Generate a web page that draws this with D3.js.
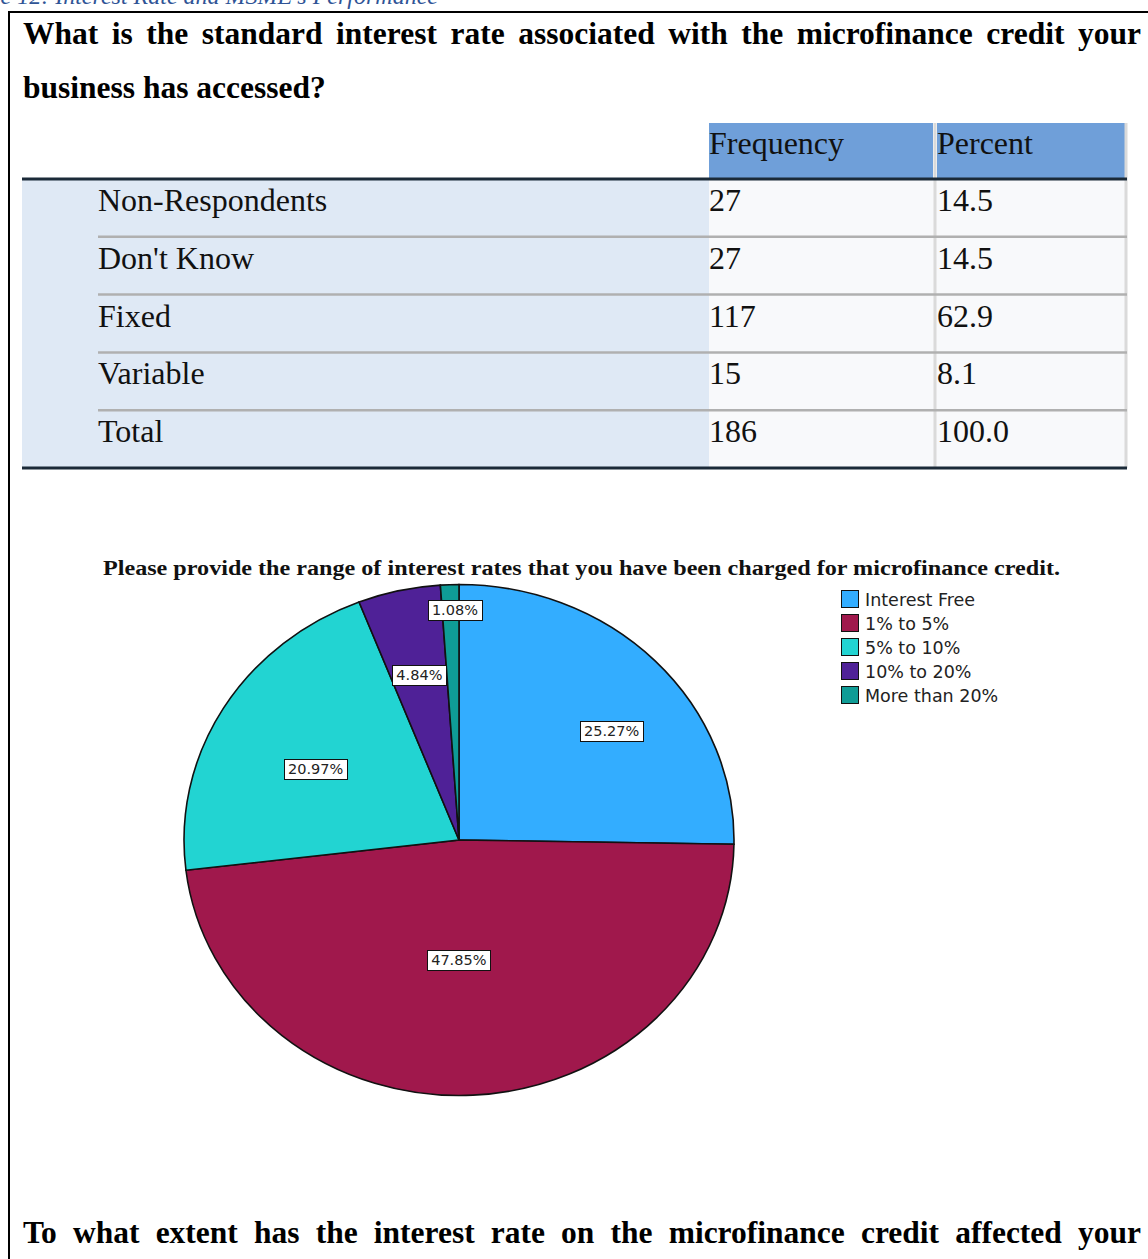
<!DOCTYPE html>
<html>
<head>
<meta charset="utf-8">
<script src="https://cdn.jsdelivr.net/npm/d3@7"></script>
<style>
  body { margin: 0; background: #fff; }
  svg { display: block; }
</style>
</head>
<body>
<div id="chart"></div>
<script>
// table data
var rowLabels = ["Non-Respondents", "Don't Know", "Fixed", "Variable", "Total"];
var frequencies = [27, 27, 117, 15, 186];
var percents = ["14.5", "14.5", "62.9", "8.1", "100.0"];
var headers = ["Frequency", "Percent"];

// pie data
var pieCategories = ["Interest Free", "1% to 5%", "5% to 10%", "10% to 20%", "More than 20%"];
var pieValues = [25.27, 47.85, 20.97, 4.84, 1.08];
var pieColors = ["#33adff", "#a0184c", "#22d4d2", "#4f2197", "#0f9c96"];
// where each slice label sits: fraction of radius, angle shift in degrees
var labelPlace = [[0.70, 7], [0.47, 3], [0.59, -3], [0.66, 0], [0.90, 1]];

var caption = "Table 12: Interest Rate and MSME's Performance";
var question1 = ["What is the standard interest rate associated with the microfinance credit your", "business has accessed?"];
var pieTitle = "Please provide the range of interest rates that you have been charged for microfinance credit.";
var question2 = "To what extent has the interest rate on the microfinance credit affected your";

(function (d3) {

    /***** Configuration *****/
    var W = 1148, H = 1259;
    var serif = "'Liberation Serif', 'Times New Roman', serif";
    var sans = "'DejaVu Sans', Verdana, sans-serif";

    var svg = d3.select("#chart")
                .append("svg")
                .attr("width", W)
                .attr("height", H);

    // writes a line of words spread from x0 to x1
    function justifiedLine(g, words, x0, x1, y, style) {
        var t = g.append("g");
        var nodes = words.map(function (w) {
            return t.append("text").attr("y", y).text(w)
                    .style("font-family", style.family)
                    .style("font-size", style.size + "px")
                    .style("font-weight", style.weight)
                    .style("fill", "#000");
        });
        var widths = nodes.map(function (n) { return n.node().getComputedTextLength(); });
        var gap = (x1 - x0 - d3.sum(widths)) / (words.length - 1);
        var x = x0;
        nodes.forEach(function (n, i) { n.attr("x", x); x += widths[i] + gap; });
    }

    /***** caption and frame *****/
    svg.append("text")
       .attr("x", 438).attr("y", 4)
       .attr("text-anchor", "end")
       .style("font-family", serif)
       .style("font-style", "italic")
       .style("font-size", "24px")
       .style("fill", "#2f5496")
       .text(caption);

    svg.append("path")
       .attr("d", "M9," + H + "V12H" + W)
       .attr("fill", "none")
       .attr("stroke", "#000")
       .attr("stroke-width", 2);

    var qStyle = { family: serif, size: 31.5, weight: "bold" };
    justifiedLine(svg, question1[0].split(" "), 23, 1141, 44, qStyle);
    svg.append("text")
       .attr("x", 23).attr("y", 98)
       .style("font-family", serif).style("font-size", "31.5px").style("font-weight", "bold")
       .text(question1[1]);

    /***** table *****/
    var tableTop = 179, tableBottom = 468;
    var y = d3.scaleBand().domain(d3.range(rowLabels.length)).range([tableTop, tableBottom]);
    var col = { label: [22, 709], freq: [709, 935], pct: [935, 1126] };

    var tg = svg.append("g");
    tg.append("rect").attr("x", col.label[0]).attr("y", tableTop)
      .attr("width", col.label[1] - col.label[0]).attr("height", tableBottom - tableTop)
      .attr("fill", "#dfe9f5");
    tg.append("rect").attr("x", col.freq[0]).attr("y", tableTop)
      .attr("width", col.pct[1] - col.freq[0]).attr("height", tableBottom - tableTop)
      .attr("fill", "#f8f9fb");

    // header
    [col.freq, col.pct].forEach(function (c, i) {
        tg.append("rect").attr("x", c[0] + (i ? 2 : 0)).attr("y", 123)
          .attr("width", c[1] - c[0] - 2).attr("height", 55)
          .attr("fill", "#6f9fd9");
        tg.append("text").attr("x", c[0] + (i ? 2 : 0)).attr("y", 154)
          .style("font-family", serif).style("font-size", "32px")
          .style("fill", "#111")
          .text(headers[i]);
    });

    // vertical dividers
    tg.selectAll(".vline")
      .data([935, 1126])
      .enter()
      .append("line")
      .attr("x1", function (d) { return d; }).attr("x2", function (d) { return d; })
      .attr("y1", 123).attr("y2", tableBottom)
      .attr("stroke", "#dadada").attr("stroke-width", 3);

    // row separators
    tg.selectAll(".sep")
      .data(d3.range(1, rowLabels.length))
      .enter()
      .append("line")
      .attr("x1", 98).attr("x2", 1127)
      .attr("y1", function (d) { return y(d); }).attr("y2", function (d) { return y(d); })
      .attr("stroke", "#b0b0b0").attr("stroke-width", 2.5);

    // thick top and bottom rules
    tg.selectAll(".rule")
      .data([tableTop, tableBottom])
      .enter()
      .append("line")
      .attr("x1", 22).attr("x2", 1127)
      .attr("y1", function (d) { return d; }).attr("y2", function (d) { return d; })
      .attr("stroke", "#1b2a38").attr("stroke-width", 3);

    var rows = tg.selectAll(".row")
                 .data(rowLabels)
                 .enter()
                 .append("g")
                 .attr("transform", function (d, i) { return "translate(0," + (y(i) + 32) + ")"; })
                 .style("font-family", serif).style("font-size", "32px").style("fill", "#111");
    rows.append("text").attr("x", 98).text(function (d) { return d; });
    rows.append("text").attr("x", col.freq[0]).text(function (d, i) { return frequencies[i]; });
    rows.append("text").attr("x", col.pct[0] + 2).text(function (d, i) { return percents[i]; });

    /***** pie chart *****/
    svg.append("text")
       .attr("x", 103).attr("y", 575)
       .attr("textLength", 957).attr("lengthAdjust", "spacingAndGlyphs")
       .style("font-family", serif).style("font-weight", "bold").style("font-size", "20px")
       .style("fill", "#111")
       .text(pieTitle);

    var cx = 459, cy = 840, rx = 275, ry = 255.5;
    var pie = d3.pie().sort(null).value(function (d) { return d; });
    var arcs = pie(pieValues);
    var arc = d3.arc().innerRadius(0).outerRadius(rx);

    var pg = svg.append("g")
                .attr("transform", "translate(" + cx + "," + cy + ") scale(1," + (ry / rx) + ")");
    pg.selectAll("path")
      .data(arcs)
      .enter()
      .append("path")
      .attr("d", arc)
      .attr("fill", function (d, i) { return pieColors[i]; })
      .attr("stroke", "#111")
      .attr("stroke-width", 1.6)
      .attr("vector-effect", "non-scaling-stroke");

    // slice labels
    var lg = svg.append("g")
                .style("font-family", sans).style("font-size", "14.5px");
    arcs.forEach(function (d, i) {
        var a = (d.startAngle + d.endAngle) / 2 + labelPlace[i][1] * Math.PI / 180;
        var r = labelPlace[i][0];
        var px = cx + Math.sin(a) * rx * r;
        var py = cy - Math.cos(a) * ry * r;
        var txt = pieValues[i].toFixed(2) + "%";
        var box = lg.append("rect");
        var t = lg.append("text")
                  .attr("x", px).attr("y", py + 5)
                  .attr("text-anchor", "middle")
                  .style("fill", "#222")
                  .text(txt);
        var w = t.node().getComputedTextLength() + 8;
        box.attr("x", Math.round(px - w / 2) + 0.5).attr("y", Math.round(py - 10) + 0.5)
           .attr("width", Math.round(w)).attr("height", 20)
           .attr("fill", "#fff").attr("stroke", "#111").attr("stroke-width", 1);
    });

    // legend
    var legend = svg.selectAll(".legend")
                    .data(pieCategories)
                    .enter()
                    .append("g")
                    .attr("transform", function (d, i) { return "translate(841," + (590 + i * 24) + ")"; });
    legend.append("rect")
          .attr("x", 0.5).attr("y", 0.5)
          .attr("width", 17).attr("height", 17)
          .attr("fill", function (d, i) { return pieColors[i]; })
          .attr("stroke", "#111");
    legend.append("text")
          .attr("x", 24).attr("y", 16)
          .style("font-family", sans).style("font-size", "17.5px")
          .style("fill", "#222")
          .text(function (d) { return d; });

    /***** next question *****/
    justifiedLine(svg, question2.split(" "), 23, 1141, 1243, qStyle);

})(d3);
</script>
</body>
</html>
